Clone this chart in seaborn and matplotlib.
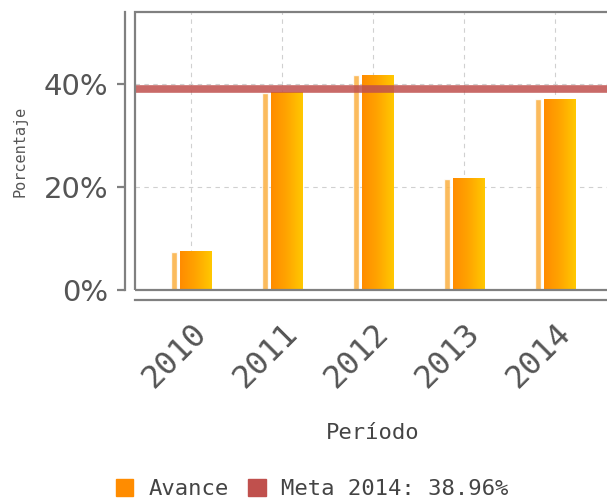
import numpy as np
import matplotlib
matplotlib.use("Agg")
import matplotlib.pyplot as plt
import seaborn as sns
from matplotlib.colors import LinearSegmentedColormap
from matplotlib.patches import Rectangle, Patch
from matplotlib.ticker import FuncFormatter

# Data
years = ["2010", "2011", "2012", "2013", "2014"]
avance = [7.4, 38.3, 41.7, 21.6, 37.1]
meta_2014 = 38.96
meta_label = "Meta 2014: 38.96%"

sns.set_style("white")
plt.rcParams['font.family'] = ['DejaVu Sans']
plt.rcParams['ytick.left'] = True

fig = plt.figure(figsize=(6.07, 5.0), dpi=100)
ax = fig.add_axes([135 / 607, 1 - 290 / 500, 476 / 607, 278 / 500])

# main bars (seaborn), shifted a little to the right of the category centre
sns.barplot(x=years, y=avance, width=0.35, color="#ff9900", ax=ax,
            linewidth=0, zorder=3)
grad = LinearSegmentedColormap.from_list("og", ["#ff8c00", "#ffa500", "#ffc800"])
g = np.linspace(0, 1, 64).reshape(1, -1)
for p in list(ax.patches):
    p.set_x(p.get_x() + 0.055)
    x0, w, h = p.get_x(), p.get_width(), p.get_height()
    ax.imshow(g, cmap=grad, aspect="auto", extent=[x0, x0 + w, 0, h],
              zorder=3.5, interpolation="bilinear")

# thin light "shadow" strip on the left of every bar
ax.bar(np.arange(len(years)) - 0.19, avance, width=0.065, color="#fbb040",
       alpha=0.85, zorder=3)

# goal line
ax.axhline(meta_2014, color="#c0504d", lw=5.5, alpha=0.85, zorder=5)

ax.set_xlim(-0.615, 4.615)
ax.set_ylim(0, 54)
ax.set_yticks([0, 20, 40])
ax.yaxis.set_major_formatter(FuncFormatter(lambda v, _: f"{v:.0f}%"))
ax.set_xticks(range(len(years)))
ax.set_xticklabels(years)
ax.grid(True, ls=(0, (4, 4)), color="#d0d0d0", lw=0.8, zorder=0)

# offset axes lines + inner frame
for s in ["top", "right"]:
    ax.spines[s].set_visible(False)
for s in ["left", "bottom"]:
    ax.spines[s].set_position(("outward", 7.5))
    ax.spines[s].set_color("#808080")
    ax.spines[s].set_linewidth(1.6)
ax.add_patch(Rectangle((0, 0), 1, 1, transform=ax.transAxes, fill=False,
                       ec="#808080", lw=1.6, zorder=6, clip_on=False))

ax.tick_params(axis="y", left=True, direction="out", length=5.5, width=1.6,
               color="#808080", labelsize=21, labelcolor="#555555", pad=6)
ax.tick_params(axis="x", bottom=False, length=0, labelsize=23,
               labelcolor="#555555", pad=12)
for t in ax.get_xticklabels():
    t.set_rotation(45)
    t.set_ha("right")
    t.set_rotation_mode("anchor")
    t.set_family("DejaVu Sans Mono")

ax.set_ylabel("Porcentaje", fontsize=11, color="#555555", family="DejaVu Sans Mono")
ax.yaxis.set_label_coords(-(135 - 20) / 476, 0.5)
ax.yaxis.label.set_va("center")
ax.set_xlabel("Período", fontsize=16, color="#444444", family="DejaVu Sans Mono")
ax.xaxis.set_label_coords((373 - 135) / 476, -(433 - 290) / 278)
ax.xaxis.label.set_va("center")

handles = [Patch(color="#ff8c00", label="Avance"),
           Patch(color="#c0504d", label=meta_label)]
fig.legend(handles=handles, loc="center", bbox_to_anchor=(312 / 607, 1 - 489 / 500),
           ncol=2, frameon=False, handlelength=0.77, handleheight=0.77,
           handletextpad=0.7, columnspacing=0.9, labelcolor="#444444",
           prop={"family": "DejaVu Sans Mono", "size": 16})

fig.savefig("out.png", dpi=100)
